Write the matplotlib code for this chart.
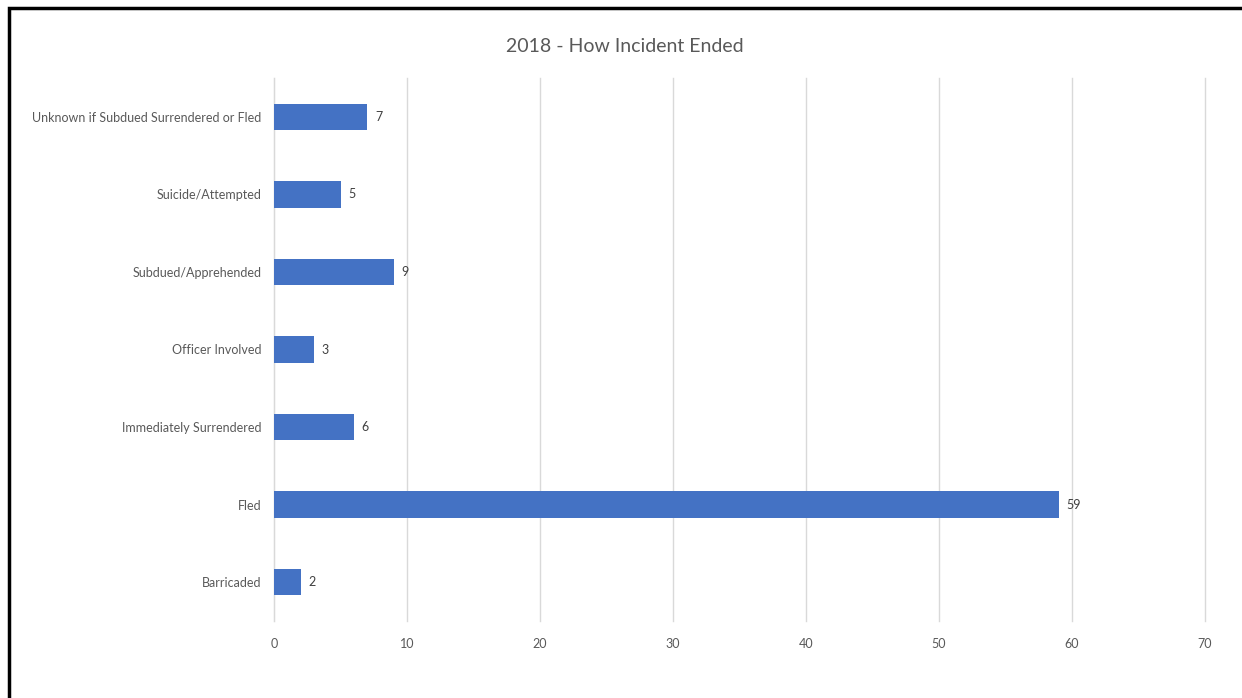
import matplotlib
matplotlib.use("Agg")
import matplotlib.pyplot as plt
from matplotlib.patches import Rectangle

categories = ["Barricaded", "Fled", "Immediately Surrendered", "Officer Involved",
              "Subdued/Apprehended", "Suicide/Attempted",
              "Unknown if Subdued Surrendered or Fled"]
counts = [2, 59, 6, 3, 9, 5, 7]
xticks = [0, 10, 20, 30, 40, 50, 60, 70]

plt.rcParams['font.family'] = ['Lato', 'DejaVu Sans']

W, H = 1242, 698
fig = plt.figure(figsize=(W / 100, H / 100), dpi=100)
ax = fig.add_axes([274 / W, (H - 621) / H, (1205 - 274) / W, (621 - 78) / H])

y = range(len(categories))
bars = ax.barh(y, counts, height=0.34, color="#4472C4", zorder=3)
for yi, c in zip(y, counts):
    ax.text(c + 0.6, yi, str(c), va="center", ha="left", fontsize=9, color="#404040")

ax.set_xlim(0, 70)
ax.set_ylim(-0.5, len(categories) - 0.5)
ax.set_xticks(xticks)
ax.set_yticks(list(y))
ax.set_yticklabels(categories)
ax.tick_params(axis="both", length=0, labelsize=9, colors="#595959")
ax.tick_params(axis="x", pad=12)
ax.tick_params(axis="y", pad=9)
ax.grid(axis="x", color="#D9D9D9", linewidth=1, zorder=0)
for line in ax.get_xgridlines():
    line.set_clip_on(False)
for s in ["top", "right", "bottom"]:
    ax.spines[s].set_visible(False)
ax.spines["left"].set_color("#D9D9D9")

fig.text(625 / W, 1 - 47 / H, "2018 - How Incident Ended", ha="center", va="center",
         fontsize=14, color="#595959")

# black frame around the pasted screenshot (top and left edges visible)
fig.add_artist(Rectangle((8.5 / W, -0.05), 1.2, 1 - 7.5 / H + 0.05, transform=fig.transFigure,
                         fill=False, edgecolor="black", linewidth=2.5))

fig.savefig("out.png", dpi=100)
